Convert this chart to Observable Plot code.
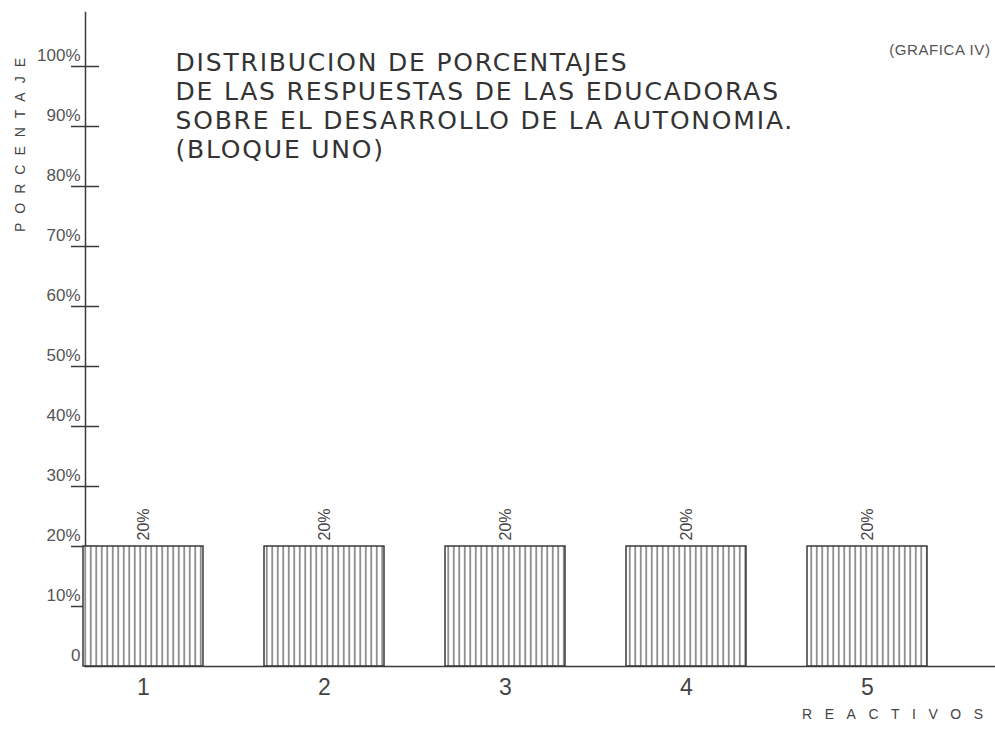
<!DOCTYPE html>
<html>
<head>
<meta charset="utf-8">
<script src="https://cdn.jsdelivr.net/npm/d3@7"></script>
<script src="https://cdn.jsdelivr.net/npm/@observablehq/plot@0.6"></script>
<style>
  body { margin: 0; background: #fff; }
  .spaced-y text { letter-spacing: 9px; }
  .spaced-x text { letter-spacing: 12.5px; }
  .title text { letter-spacing: 1.8px; }
  .grafica text { letter-spacing: 0.6px; }
</style>
</head>
<body>
<div id="chart"></div>
<script>
const reactivos = ["1", "2", "3", "4", "5"];
const porcentajes = [20, 20, 20, 20, 20];
const barLabels = ["20%", "20%", "20%", "20%", "20%"];
const yTicks = [0, 10, 20, 30, 40, 50, 60, 70, 80, 90, 100];
const yTickLabels = ["0", "10%", "20%", "30%", "40%", "50%", "60%", "70%", "80%", "90%", "100%"];
const titleLines = [
  "DISTRIBUCION DE PORCENTAJES",
  "DE LAS RESPUESTAS DE LAS EDUCADORAS",
  "SOBRE EL DESARROLLO DE LA AUTONOMIA.",
  "(BLOQUE UNO)"
];
const graficaLabel = "(GRAFICA IV)";
const yTitle = "PORCENTAJE";
const xTitle = "REACTIVOS";

const data = reactivos.map((r, i) => ({reactivo: r, valor: porcentajes[i], etiqueta: barLabels[i]}));
const tickData = yTicks.map((t, i) => ({t, label: yTickLabels[i]}));

const ink = "#3a3a3a";

const chart = Plot.plot({
  width: 995,
  height: 736,
  marginLeft: 85,
  marginRight: 0,
  marginTop: 12,
  marginBottom: 70,
  style: {background: "#fff", fontFamily: "'Liberation Sans', Arial, sans-serif"},
  x: {domain: reactivos, range: [83, 928], paddingInner: 0.335, paddingOuter: 0, label: null, axis: null},
  y: {domain: [0, 100], range: [666, 66], label: null, axis: null},
  marks: [
    Plot.frame({anchor: "left", stroke: ink, strokeWidth: 1.5}),
    Plot.axisY({ticks: yTicks.filter(t => t > 0), tickSize: 28, dx: 14, tickFormat: () => "", stroke: ink, strokeWidth: 1.5}),
    Plot.text(tickData, {y: "t", text: "label", frameAnchor: "left", textAnchor: "end", dx: -5, dy: -11, fontSize: 17, fill: "#555"}),
    Plot.barY(data, {x: "reactivo", y: "valor", fill: "url(#hatch)", stroke: ink, strokeWidth: 1.5}),
    Plot.ruleY([0], {stroke: ink, strokeWidth: 1.5}),
    Plot.text(data, {x: "reactivo", y: "valor", text: "etiqueta", rotate: -90, textAnchor: "start", dy: -6, fontSize: 16, fill: "#444"}),
    Plot.axisX({tickSize: 0, tickPadding: 12, fontSize: 23, fill: "#444", label: null}),
    Plot.text([titleLines.join("\n")], {frameAnchor: "top-left", dx: 90, dy: 38, lineAnchor: "top", textAnchor: "start", fontSize: 25, lineHeight: 1.16, fill: "#333", fontFamily: "'DejaVu Sans', sans-serif", className: "title"}),
    Plot.text([graficaLabel], {frameAnchor: "top-right", dx: -5, dy: 32, textAnchor: "end", fontSize: 15, fill: "#555", className: "grafica"}),
    Plot.text([yTitle], {frameAnchor: "top-left", dx: -70, dy: 128, rotate: -90, textAnchor: "middle", fontSize: 14, fill: "#444", className: "spaced-y"}),
    Plot.text([xTitle], {frameAnchor: "bottom-right", dx: 0, dy: 52, textAnchor: "end", fontSize: 14, fill: "#444", className: "spaced-x"})
  ]
});

const ns = "http://www.w3.org/2000/svg";
const defs = document.createElementNS(ns, "defs");
const pattern = document.createElementNS(ns, "pattern");
pattern.setAttribute("id", "hatch");
pattern.setAttribute("patternUnits", "userSpaceOnUse");
pattern.setAttribute("width", "5.5");
pattern.setAttribute("height", "10");
const bg = document.createElementNS(ns, "rect");
bg.setAttribute("width", "5.5");
bg.setAttribute("height", "10");
bg.setAttribute("fill", "#fff");
const ln = document.createElementNS(ns, "line");
ln.setAttribute("x1", "2.75"); ln.setAttribute("x2", "2.75");
ln.setAttribute("y1", "0"); ln.setAttribute("y2", "10");
ln.setAttribute("stroke", "#444");
ln.setAttribute("stroke-width", "1.1");
pattern.appendChild(bg);
pattern.appendChild(ln);
defs.appendChild(pattern);
chart.insertBefore(defs, chart.firstChild);

document.getElementById("chart").appendChild(chart);
</script>
</body>
</html>
